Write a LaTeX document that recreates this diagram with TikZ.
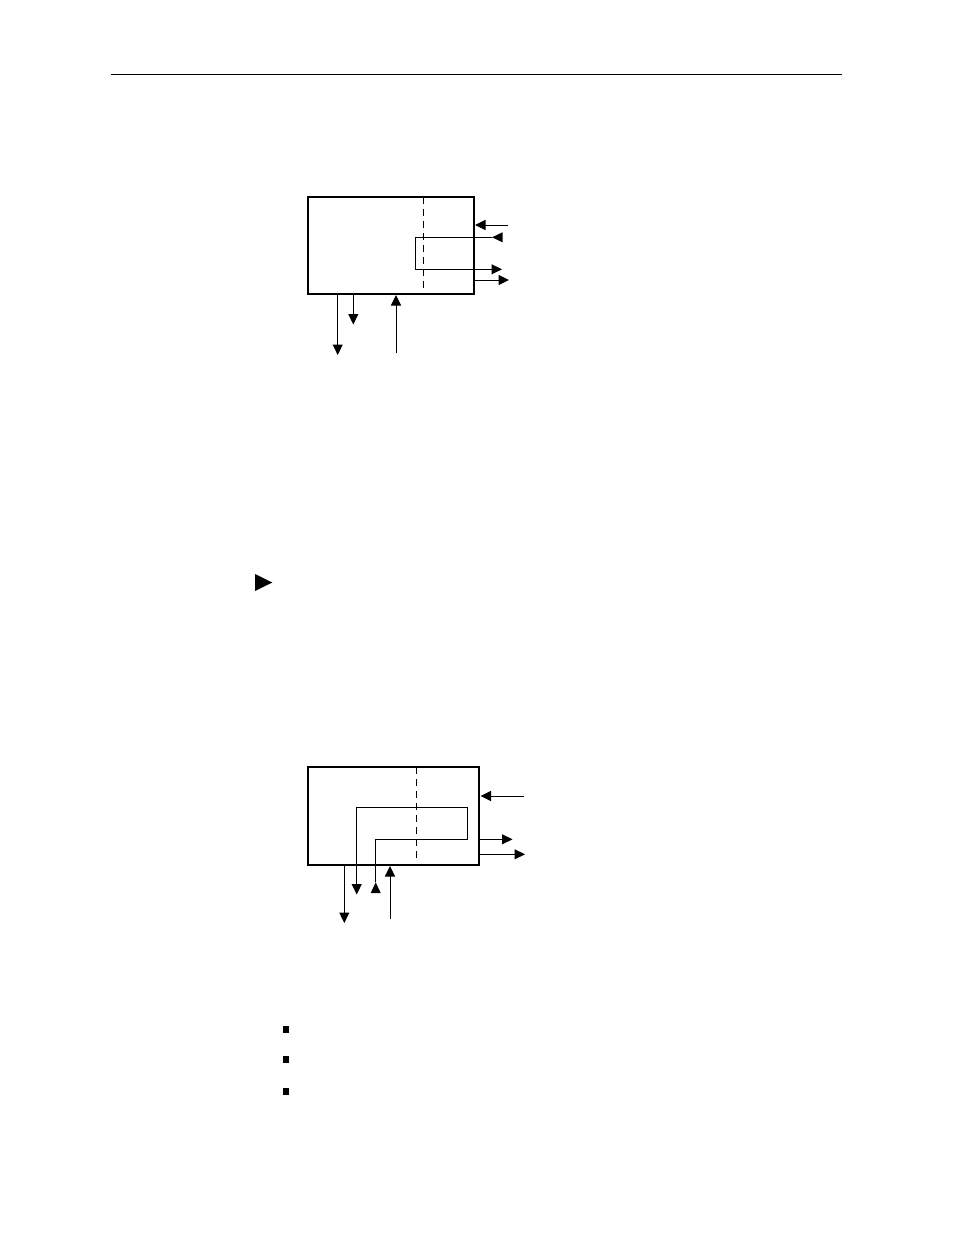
\documentclass[tikz,border=0pt]{standalone}
\usetikzlibrary{arrows.meta}
\tikzset{
  blk/.style={draw, line width=2pt, inner sep=0pt, minimum width=0pt},
  sig/.style={line width=1pt, -{Triangle[length=10.5pt,width=10pt]}},
  wire/.style={line width=1pt},
  sep/.style={line width=1pt, dash pattern=on 7pt off 5pt},
  tipfill/.style={fill=black},
}
\begin{document}
\begin{tikzpicture}[x=1pt,y=-1pt]
\useasboundingbox (0,0) rectangle (954,1235);
% header rule
\coordinate (rl) at (111,74.3);
\coordinate (rr) at (842,74.3);
\draw[line width=1pt] (rl) -- (rr);

% ---------- diagram 1 ----------
\draw[blk] (308.3,196.7) rectangle (474,294);
\coordinate (d1t) at (423.3,197);
\coordinate (d1b) at (423.3,292);
\draw[sep] (d1t) -- (d1b);
% input right
\coordinate (a1s) at (508,225);
\coordinate (a1e) at (475,225);
\draw[sig] (a1s) -- (a1e);
% loop
\coordinate (l1a) at (492,237.3);
\coordinate (l1b) at (415,237.3);
\coordinate (l1c) at (415,269.3);
\coordinate (l1d) at (502,269.3);
\draw[sig] (l1a) -- (l1b) -- (l1c) -- (l1d);
\fill[tipfill] (l1a) -- (502.5,232.3) -- (502.5,242.3) -- cycle;
% output right
\coordinate (o1s) at (474,280);
\coordinate (o1e) at (509,280);
\draw[sig] (o1s) -- (o1e);
% bottom outputs
\coordinate (b1s) at (337.7,294);
\coordinate (b1e) at (337.7,355);
\draw[sig] (b1s) -- (b1e);
\coordinate (b2s) at (353.3,294);
\coordinate (b2e) at (353.3,324.5);
\draw[sig] (b2s) -- (b2e);
% bottom input
\coordinate (b3s) at (396,353.3);
\coordinate (b3e) at (396,295);
\draw[sig] (b3s) -- (b3e);

% triangle bullet
\fill (255,574) -- (255,591) -- (272.3,582.5) -- cycle;

% ---------- diagram 2 ----------
\draw[blk] (308.3,766.7) rectangle (479.3,865);
\coordinate (d2t) at (416.7,767);
\coordinate (d2b) at (416.7,862);
\draw[sep] (d2t) -- (d2b);
% input right
\coordinate (a2s) at (524,796);
\coordinate (a2e) at (480.5,796);
\draw[sig] (a2s) -- (a2e);
% loop
\coordinate (m1) at (375.7,882.3);
\coordinate (m2) at (375.7,839.3);
\coordinate (m3) at (467.3,839.3);
\coordinate (m4) at (467.3,807.3);
\coordinate (m5) at (356.7,807.3);
\coordinate (m6) at (356.7,894.5);
\draw[sig] (m1) -- (m2) -- (m3) -- (m4) -- (m5) -- (m6);
\fill[tipfill] (m1) -- (370.7,893) -- (380.7,893) -- cycle;
% outputs right
\coordinate (o2s) at (479.3,839.3);
\coordinate (o2e) at (512.5,839.3);
\draw[sig] (o2s) -- (o2e);
\coordinate (o3s) at (479.3,854.3);
\coordinate (o3e) at (525,854.3);
\draw[sig] (o3s) -- (o3e);
% bottom
\coordinate (c1s) at (344.3,865);
\coordinate (c1e) at (344.3,923);
\draw[sig] (c1s) -- (c1e);
\coordinate (c2s) at (390,919);
\coordinate (c2e) at (390,866);
\draw[sig] (c2s) -- (c2e);

% square bullets
\fill (282.8,1026.2) rectangle (289.4,1033.2);
\fill (282.8,1056.2) rectangle (289.4,1063.2);
\fill (282.8,1087.5) rectangle (289.4,1094.5);
\end{tikzpicture}
\end{document}
